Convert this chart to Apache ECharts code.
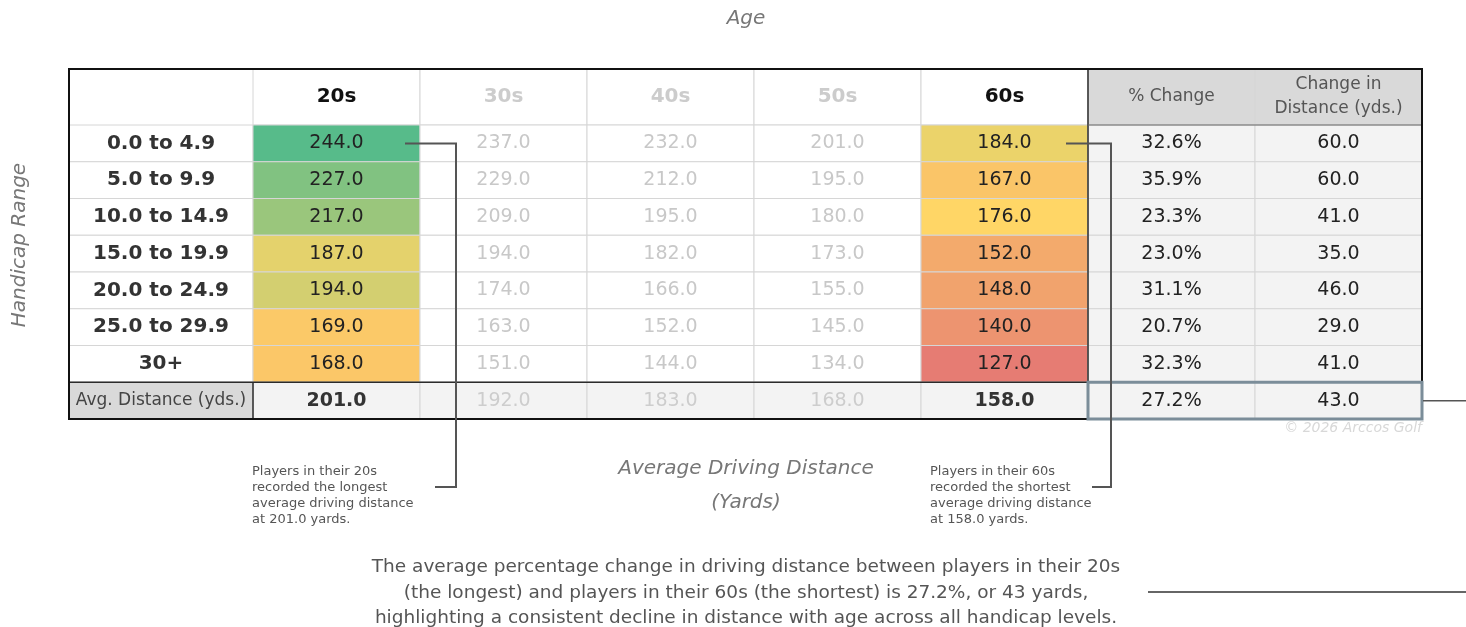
<!DOCTYPE html>
<html>
<head>
<meta charset="utf-8">
<script src="https://cdn.jsdelivr.net/npm/echarts@6/dist/echarts.min.js"></script>
<style>
html,body{margin:0;padding:0;background:#fff;}
#chart{width:1466px;height:627px;}
</style>
</head>
<body>
<div id="chart"></div>
<script>
// ---------- data ----------
const ageGroups = ['20s', '30s', '40s', '50s', '60s'];
const changeHeaders = ['% Change', 'Change in\nDistance (yds.)'];
const handicapRanges = ['0.0 to 4.9', '5.0 to 9.9', '10.0 to 14.9', '15.0 to 19.9', '20.0 to 24.9', '25.0 to 29.9', '30+'];
const avgLabel = 'Avg. Distance (yds.)';
const dist20s = [244, 227, 217, 187, 194, 169, 168];
const dist30s = [237, 229, 209, 194, 174, 163, 151];
const dist40s = [232, 212, 195, 182, 166, 152, 144];
const dist50s = [201, 195, 180, 173, 155, 145, 134];
const dist60s = [184, 167, 176, 152, 148, 140, 127];
const pctChange = [32.6, 35.9, 23.3, 23.0, 31.1, 20.7, 32.3];
const distChange = [60, 60, 41, 35, 46, 29, 41];
const avgDistance = [201, 192, 183, 168, 158];
const avgPctChange = 27.2;
const avgDistChange = 43;

const titleTop = 'Age';
const titleLeft = 'Handicap Range';
const titleBottom = 'Average Driving Distance\n(Yards)';
const note20s = 'Players in their 20s\nrecorded the longest\naverage driving distance\nat 201.0 yards.';
const note60s = 'Players in their 60s\nrecorded the shortest\naverage driving distance\nat 158.0 yards.';
const summary = 'The average percentage change in driving distance between players in their 20s\n(the longest) and players in their 60s (the shortest) is 27.2%, or 43 yards,\nhighlighting a consistent decline in distance with age across all handicap levels.';
const credit = '\u00a9 2026 Arccos Golf';

// ---------- derived tables ----------
const columns = ageGroups.concat(changeHeaders);
const rows = handicapRanges.concat([avgLabel]);
const ageCols = [dist20s, dist30s, dist40s, dist50s, dist60s];

const FONT = '"DejaVu Sans", sans-serif';
const colorStops = ['#E67C73', '#FFD666', '#57BB8A'];
const scaleVals = dist20s.concat(dist60s);
const sMin = Math.min.apply(null, scaleVals);
const sMax = Math.max.apply(null, scaleVals);
const allAge = [].concat.apply([], ageCols).slice().sort((a, b) => a - b);
const sMid = allAge[Math.floor(allAge.length / 2)];
function scaleColor(v) {
  const t = v <= sMid ? 0.5 * (v - sMin) / (sMid - sMin) : 0.5 + 0.5 * (v - sMid) / (sMax - sMid);
  return echarts.color.lerp(Math.max(0, Math.min(1, t)), colorStops);
}

const headerData = columns.map((c, i) => [i, 0]);
const labelData = rows.map((r, i) => [0, i]);
const bodyData = [];
rows.forEach((r, ri) => {
  columns.forEach((c, ci) => {
    let v, txt;
    if (ri < handicapRanges.length) {
      if (ci < 5) { v = ageCols[ci][ri]; txt = v.toFixed(1); }
      else if (ci === 5) { v = pctChange[ri]; txt = v.toFixed(1) + '%'; }
      else { v = distChange[ri]; txt = v.toFixed(1); }
    } else {
      if (ci < 5) { v = avgDistance[ci]; txt = v.toFixed(1); }
      else if (ci === 5) { v = avgPctChange; txt = v.toFixed(1) + '%'; }
      else { v = avgDistChange; txt = v.toFixed(1); }
    }
    bodyData.push({ value: [ci, ri, v], txt: txt });
  });
});

function cellRect(api) {
  const p = api.coord([api.value(0), api.value(1)]);
  const s = api.size([1, 1]);
  return { x: p[0] - s[0] / 2, y: p[1] - s[1] / 2, w: s[0], h: s[1], cx: p[0], cy: p[1] };
}

const option = {
  animation: false,
  backgroundColor: '#fff',
  grid: [
    { left: 253, top: 69, width: 1169, height: 56 },
    { left: 69, top: 125, width: 184, height: 294 },
    { left: 253, top: 125, width: 1169, height: 294 }
  ],
  xAxis: [
    { type: 'category', gridIndex: 0, data: columns, show: false },
    { type: 'category', gridIndex: 1, data: ['label'], show: false },
    { type: 'category', gridIndex: 2, data: columns, show: false }
  ],
  yAxis: [
    { type: 'category', gridIndex: 0, data: ['header'], show: false },
    { type: 'category', gridIndex: 1, data: rows, inverse: true, show: false },
    { type: 'category', gridIndex: 2, data: rows, inverse: true, show: false }
  ],
  series: [
    {
      type: 'custom', xAxisIndex: 0, yAxisIndex: 0, data: headerData,
      renderItem: function (params, api) {
        const c = cellRect(api);
        const ci = api.value(0);
        const isChange = ci >= 5;
        const hi = ci === 0 || ci === 4;
        return {
          type: 'group', children: [
            { type: 'rect', shape: { x: c.x, y: c.y, width: c.w, height: c.h },
              style: { fill: isChange ? '#D9D9D9' : '#fff', stroke: '#D6D6D6', lineWidth: 1 } },
            { type: 'text', style: {
                text: columns[ci], x: c.cx, y: c.cy, align: 'center', verticalAlign: 'middle',
                fontFamily: FONT, fontSize: isChange ? 17 : 20, fontWeight: isChange ? 'normal' : 'bold',
                lineHeight: 24, fill: isChange ? '#555' : (hi ? '#111' : '#CCCCCC') } }
          ]
        };
      }
    },
    {
      type: 'custom', xAxisIndex: 1, yAxisIndex: 1, data: labelData,
      renderItem: function (params, api) {
        const c = cellRect(api);
        const ri = api.value(1);
        const isAvg = ri === rows.length - 1;
        return {
          type: 'group', children: [
            { type: 'rect', shape: { x: c.x, y: c.y, width: c.w, height: c.h },
              style: { fill: isAvg ? '#D9D9D9' : '#fff', stroke: '#D6D6D6', lineWidth: 1 } },
            { type: 'text', style: {
                text: rows[ri], x: c.cx, y: c.cy, align: 'center', verticalAlign: 'middle',
                fontFamily: FONT, fontSize: isAvg ? 17 : 20, fontWeight: isAvg ? 'normal' : 'bold',
                fill: isAvg ? '#444' : '#333' } }
          ]
        };
      }
    },
    {
      type: 'custom', xAxisIndex: 2, yAxisIndex: 2, data: bodyData,
      renderItem: function (params, api) {
        const c = cellRect(api);
        const ci = api.value(0), ri = api.value(1), v = api.value(2);
        const isAvg = ri === rows.length - 1;
        const hi = ci === 0 || ci === 4;
        let fill = '#fff', tc = '#222', fw = 'normal';
        if (isAvg) {
          fill = '#F3F3F3';
          if (hi) { tc = '#333'; fw = 'bold'; }
          else if (ci < 5) { tc = '#CDCDCD'; }
        } else if (hi) {
          fill = scaleColor(v);
        } else if (ci < 5) {
          tc = '#C8C8C8';
        } else {
          fill = '#F3F3F3';
        }
        return {
          type: 'group', children: [
            { type: 'rect', shape: { x: c.x, y: c.y, width: c.w, height: c.h },
              style: { fill: fill, stroke: '#D6D6D6', lineWidth: 1 } },
            { type: 'text', style: {
                text: bodyData[params.dataIndex].txt, x: c.cx, y: c.cy, align: 'center', verticalAlign: 'middle',
                fontFamily: FONT, fontSize: 19, fontWeight: fw, fill: tc } }
          ]
        };
      }
    }
  ]
};

const chart = echarts.init(document.getElementById('chart'), null, { renderer: 'canvas' });
chart.setOption(option);

// ---------- decorations positioned from the axes ----------
function cellBox(ci, ri) {
  const p = chart.convertToPixel({ gridIndex: 2 }, [ci, ri]);
  const p2 = chart.convertToPixel({ gridIndex: 2 }, [ci + 1, ri + 1]);
  const w = p2[0] - p[0], h = p2[1] - p[1];
  return { x: p[0] - w / 2, y: p[1] - h / 2, w: w, h: h, cx: p[0], cy: p[1] };
}
const nR = rows.length, lastR = nR - 1;
const first = cellBox(0, 0), lastCol = cellBox(6, lastR);
const tblLeft = 69, tblTop = 69;
const tblRight = lastCol.x + lastCol.w, tblBottom = lastCol.y + lastCol.h;
const c20 = cellBox(0, 0), c60 = cellBox(4, 0), cPct = cellBox(5, lastR), avgRow = cellBox(0, lastR);
const dark = '#2b2b2b';
const greyTxt = '#777';

const graphic = [
  { type: 'line', z: 100, shape: { x1: tblLeft, y1: avgRow.y, x2: tblRight, y2: avgRow.y }, style: { stroke: dark, lineWidth: 1.5 } },
  { type: 'line', z: 100, shape: { x1: first.x, y1: avgRow.y, x2: first.x, y2: tblBottom }, style: { stroke: dark, lineWidth: 1.5 } },
  { type: 'line', z: 100, shape: { x1: cPct.x, y1: tblTop, x2: cPct.x, y2: tblBottom }, style: { stroke: dark, lineWidth: 1.5 } },
  { type: 'line', z: 100, shape: { x1: cPct.x, y1: first.y, x2: tblRight, y2: first.y }, style: { stroke: '#666', lineWidth: 1.2 } },
  { type: 'rect', z: 101, shape: { x: tblLeft, y: tblTop, width: tblRight - tblLeft, height: tblBottom - tblTop }, style: { fill: null, stroke: '#111', lineWidth: 2 } },
  { type: 'rect', z: 102, shape: { x: cPct.x, y: cPct.y, width: tblRight - cPct.x, height: cPct.h }, style: { fill: null, stroke: '#7B8D99', lineWidth: 3 } },
  { type: 'line', z: 102, shape: { x1: tblRight + 1, y1: cPct.cy, x2: 1466, y2: cPct.cy }, style: { stroke: '#555', lineWidth: 1.5 } },
  { type: 'text', z: 100, style: { text: credit, x: tblRight, y: tblBottom + 9, align: 'right', verticalAlign: 'middle', fontFamily: FONT, fontStyle: 'italic', fontSize: 14, fill: '#D8D8D8' } },
  { type: 'polyline', z: 103, shape: { points: [[c20.x + c20.w - 15, c20.cy], [c20.x + c20.w + 36, c20.cy], [c20.x + c20.w + 36, 487], [c20.x + c20.w + 15, 487]] }, style: { stroke: '#555', lineWidth: 2, fill: null } },
  { type: 'polyline', z: 103, shape: { points: [[c60.x + c60.w - 22, c60.cy], [c60.x + c60.w + 23, c60.cy], [c60.x + c60.w + 23, 487], [c60.x + c60.w + 4, 487]] }, style: { stroke: '#555', lineWidth: 2, fill: null } },
  { type: 'text', z: 100, style: { text: note20s, x: 252, y: 464, align: 'left', verticalAlign: 'top', fontFamily: FONT, fontSize: 13, lineHeight: 16, fill: '#555' } },
  { type: 'text', z: 100, style: { text: note60s, x: 930, y: 464, align: 'left', verticalAlign: 'top', fontFamily: FONT, fontSize: 13, lineHeight: 16, fill: '#555' } },
  { type: 'text', z: 100, style: { text: titleTop, x: 746, y: 19, align: 'center', verticalAlign: 'middle', fontFamily: FONT, fontStyle: 'italic', fontSize: 20, fill: greyTxt } },
  { type: 'text', z: 100, rotation: Math.PI / 2, x: 20, y: 245, style: { text: titleLeft, x: 0, y: 0, align: 'center', verticalAlign: 'middle', fontFamily: FONT, fontStyle: 'italic', fontSize: 20, fill: greyTxt } },
  { type: 'text', z: 100, style: { text: titleBottom, x: 746, y: 486, align: 'center', verticalAlign: 'middle', fontFamily: FONT, fontStyle: 'italic', fontSize: 20, lineHeight: 34, fill: greyTxt } },
  { type: 'text', z: 100, style: { text: summary, x: 746, y: 593, align: 'center', verticalAlign: 'middle', fontFamily: FONT, fontSize: 18.5, lineHeight: 25.5, fill: '#555' } },
  { type: 'line', z: 100, shape: { x1: 1148, y1: 592, x2: 1466, y2: 592 }, style: { stroke: '#666', lineWidth: 2 } }
];
chart.setOption({ graphic: graphic });
</script>
</body>
</html>
